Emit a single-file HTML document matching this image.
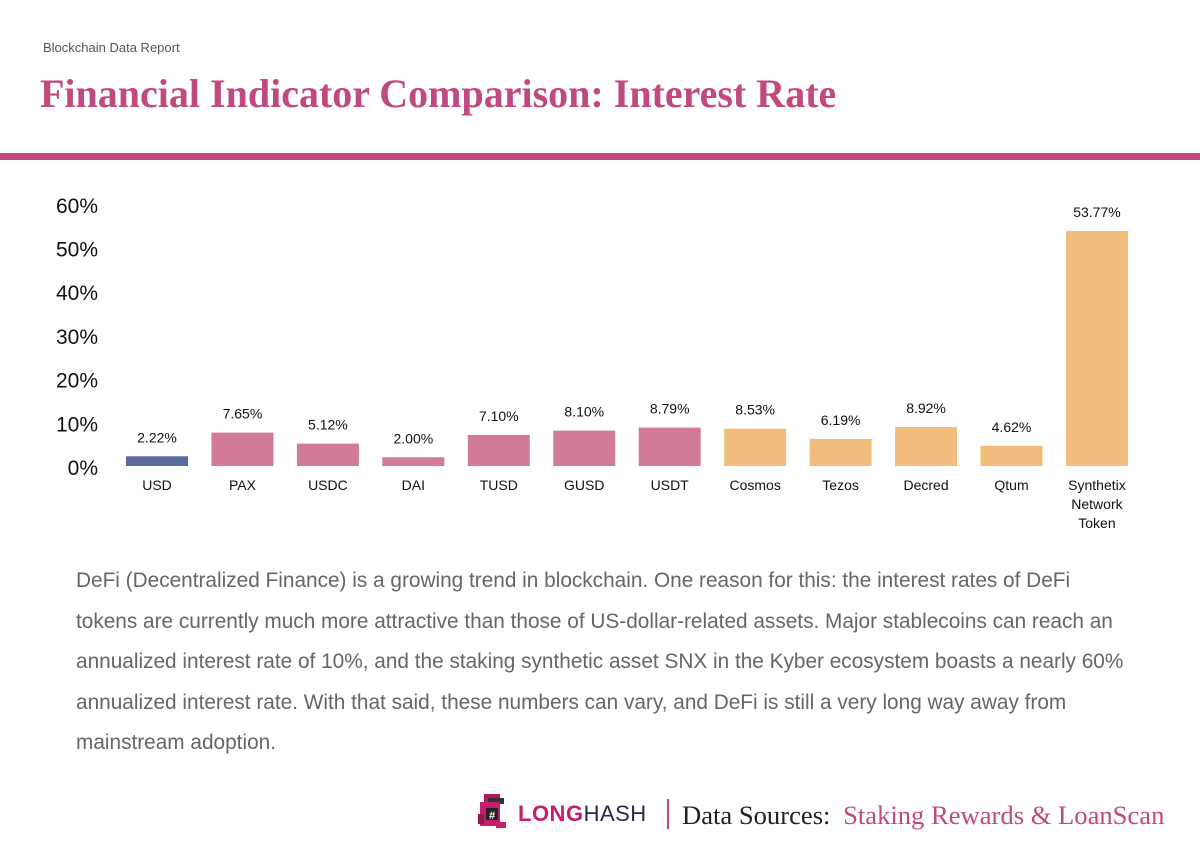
<!DOCTYPE html>
<html><head><meta charset="utf-8"><style>
body{margin:0;width:1200px;height:848px;background:#fff;position:relative;overflow:hidden;font-family:"Liberation Sans","DejaVu Sans",sans-serif}
.abs{position:absolute}
</style></head><body>
<div class="abs" style="left:43px;top:40px;font-size:13px;color:#555">Blockchain Data Report</div>
<div class="abs" style="left:40px;top:70px;font-family:'Liberation Serif',serif;font-size:40px;font-weight:bold;color:#c0497f">Financial Indicator Comparison: Interest Rate</div>
<div class="abs" style="left:0;top:153px;width:1200px;height:7px;background:#c0497f"></div>
<svg class="abs" style="left:0;top:0" width="1200" height="560" id="chart"></svg>
<div class="abs" style="left:76px;top:561px;white-space:nowrap;font-size:20.8px;line-height:40.5px;color:#666">DeFi (Decentralized Finance) is a growing trend in blockchain. One reason for this: the interest rates of DeFi<br>tokens are currently much more attractive than those of US-dollar-related assets. Major stablecoins can reach an<br>annualized interest rate of 10%, and the staking synthetic asset SNX in the Kyber ecosystem boasts a nearly 60%<br>annualized interest rate. With that said, these numbers can vary, and DeFi is still a very long way away from<br>mainstream adoption.</div>
<div class="abs" style="left:476px;top:792px;width:40px;height:40px">
<svg width="40" height="40"><rect x="8" y="2" width="16" height="10" fill="#b3185f"/><rect x="12" y="6" width="16" height="6" fill="#333"/><rect x="4" y="10" width="20" height="24" fill="#c41e6c"/><rect x="10" y="16" width="12" height="12" fill="#222"/><text x="16" y="27" font-size="11" fill="#fff" text-anchor="middle" font-weight="bold">#</text><rect x="2" y="22" width="6" height="10" fill="#9a1550"/><rect x="20" y="30" width="10" height="6" fill="#c41e6c"/></svg></div>
<div class="abs" style="left:518px;top:801px;font-size:22px;letter-spacing:0.5px"><b style="color:#c41e6c">LONG</b><span style="color:#2a2a45">HASH</span></div>
<div class="abs" style="left:667px;top:799px;width:2px;height:30px;background:#c0497f"></div>
<div class="abs" style="left:682px;top:800px;font-family:'Liberation Serif',serif;font-size:26.6px;color:#222;white-space:nowrap">Data Sources: <span style="color:#c0497f;margin-left:6px">Staking Rewards &amp; LoanScan</span></div>
<script>
const categories=["USD","PAX","USDC","DAI","TUSD","GUSD","USDT","Cosmos","Tezos","Decred","Qtum","Synthetix Network Token"];
const values=[2.22,7.65,5.12,2.00,7.10,8.10,8.79,8.53,6.19,8.92,4.62,53.77];
const groups=["usd","stable","stable","stable","stable","stable","stable","defi","defi","defi","defi","defi"];
const ticks=[0,10,20,30,40,50,60];
const colors={usd:"#5c6b9d",stable:"#d27b96",defi:"#f1bc7c"};
const NS="http://www.w3.org/2000/svg",svg=document.getElementById("chart");
const y0=466,pxPer=4.37,x0=157,step=85.45,bw=62;
const y=v=>y0-v*pxPer,x=i=>x0+i*step;
function mk(t,a){const e=document.createElementNS(NS,t);for(const k in a)e.setAttribute(k,a[k]);svg.appendChild(e);return e;}
ticks.forEach(t=>{const e=mk("text",{x:98,y:y(t)+9,"text-anchor":"end","font-size":21,fill:"#111"});e.textContent=t+"%";

});
values.forEach((v,i)=>{
const r=mk("rect",{x:x(i)-bw/2,y:y(v),width:bw,height:y0-y(v),fill:colors[groups[i]]});


const l=mk("text",{x:x(i),y:y(v)-14,"text-anchor":"middle","font-size":14,fill:"#111"});l.textContent=v.toFixed(2)+"%";


const words=categories[i]==="Synthetix Network Token"?["Synthetix","Network","Token"]:[categories[i]];
words.forEach((w,j)=>{const c=mk("text",{x:x(i),y:490+j*19,"text-anchor":"middle","font-size":14,fill:"#111"});c.textContent=w;

});
});
</script>
</body></html>
